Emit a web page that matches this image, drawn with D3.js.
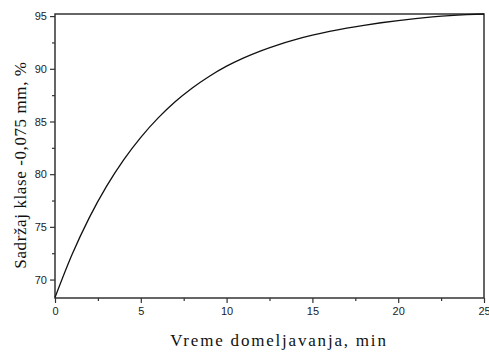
<!DOCTYPE html>
<html>
<head>
<meta charset="utf-8">
<script src="https://cdn.jsdelivr.net/npm/d3@7"></script>
<style>
  body { margin: 0; background: #fff; }
  .tick text { font-family: Arial, "Liberation Sans", sans-serif; font-size: 11px; fill: #222; }
</style>
</head>
<body>
<div id="chart"></div>
<script>
// data (minutes vs. % of -0.075 mm class)
var time = [0, 1, 2, 3, 4, 5, 6, 7, 8, 9, 10, 11, 12, 13, 14, 15, 16, 17, 18, 19, 20, 21, 22, 23, 24, 25]
var content = [68.3, 72.4, 75.88, 78.84, 81.36, 83.5, 85.32, 86.87, 88.18, 89.3, 90.25, 91.04, 91.71, 92.28, 92.77,
               93.19, 93.55, 93.86, 94.13, 94.37, 94.58, 94.76, 94.92, 95.05, 95.14, 95.2]
var xTicks = [0, 5, 10, 15, 20, 25]
var xMinor = [2.5, 7.5, 12.5, 17.5, 22.5]
var yTicks = [70, 75, 80, 85, 90, 95]
var yMinor = [72.5, 77.5, 82.5, 87.5, 92.5]

var margin = {top: 14, right: 5, bottom: 54, left: 55},
    width = 484 - 55,
    height = 298 - 14

var svg = d3.select("#chart")
  .append("svg")
    .attr("width", 489)
    .attr("height", 352)
  .append("g")
    .attr("transform", "translate(" + margin.left + "," + margin.top + ")")

var x = d3.scaleLinear().domain([0, 25]).range([0, width])
var y = d3.scaleLinear().domain([68.25, 95.2]).range([height, 0])

// minor ticks
svg.append("g")
  .attr("transform", "translate(0," + height + ")")
  .call(d3.axisBottom(x).tickValues(xMinor).tickSize(3).tickFormat(""))
svg.append("g")
  .call(d3.axisLeft(y).tickValues(yMinor).tickSize(3).tickFormat(""))

// major ticks
svg.append("g")
  .attr("transform", "translate(0," + height + ")")
  .call(d3.axisBottom(x).tickValues(xTicks).tickSize(5).tickPadding(4))
svg.append("g")
  .call(d3.axisLeft(y).tickValues(yTicks).tickSize(5).tickPadding(3))

svg.selectAll(".domain").remove()
svg.selectAll(".tick line").attr("stroke", "#333").attr("stroke-width", 1.2)

// frame
svg.append("rect")
  .attr("x", 0)
  .attr("y", 0)
  .attr("width", width)
  .attr("height", height)
  .style("fill", "none")
  .style("stroke", "#333")
  .style("stroke-width", 1.5)

// the curve
var line = d3.line()
  .x(function(d, i) { return x(time[i]) })
  .y(function(d) { return y(d) })
  .curve(d3.curveMonotoneX)

svg.append("path")
  .datum(content)
  .attr("d", line)
  .style("fill", "none")
  .style("stroke", "#111")
  .style("stroke-width", 1.3)

// axis labels
svg.append("text")
  .attr("text-anchor", "middle")
  .attr("x", 224)
  .attr("y", height + 48)
  .style("font-family", "'Liberation Serif', 'Times New Roman', serif")
  .style("font-size", "17px")
  .style("letter-spacing", "1.8px")
  .style("fill", "#111")
  .text("Vreme domeljavanja, min")

svg.append("text")
  .attr("text-anchor", "middle")
  .attr("transform", "rotate(-90)")
  .attr("x", -151)
  .attr("y", -29)
  .style("font-family", "'Liberation Serif', 'Times New Roman', serif")
  .style("font-size", "17px")
  .style("letter-spacing", "0.6px")
  .style("fill", "#111")
  .text("Sadržaj klase -0,075 mm, %")
</script>
</body>
</html>
